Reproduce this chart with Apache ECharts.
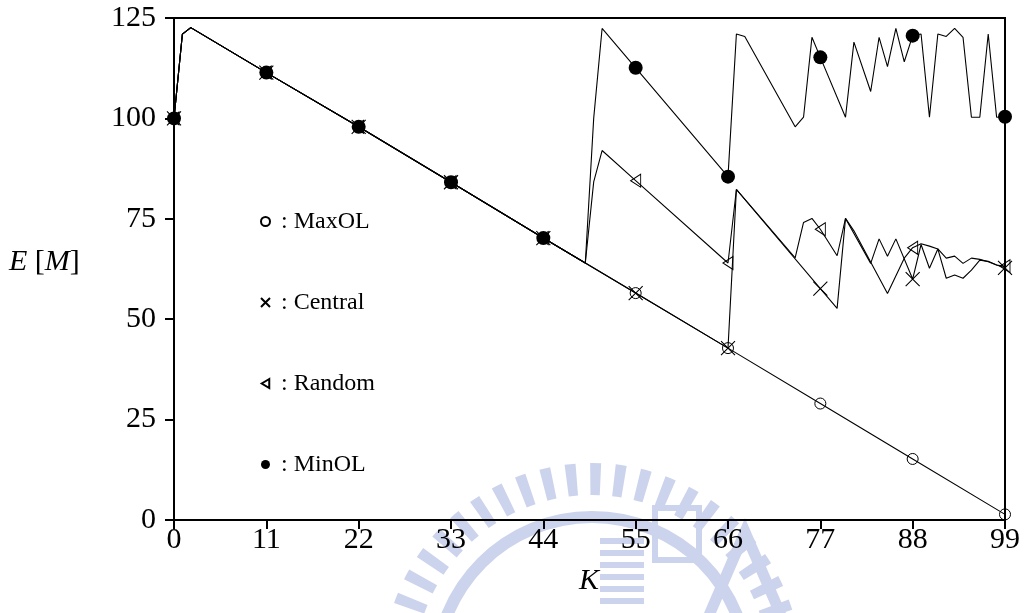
<!DOCTYPE html>
<html>
<head>
<meta charset="utf-8">
<script src="https://cdn.jsdelivr.net/npm/echarts@6/dist/echarts.min.js"></script>
<style>
  html, body { margin: 0; padding: 0; background: #fff; }
  #chart { width: 1024px; height: 613px; }
</style>
</head>
<body>
<div id="chart"></div>
<script>
// Energy E [M] against K for four placement strategies.
// Every strategy shares the same start up to K = 49.
const sharedHead = [[0, 100], [1, 121], [2, 122.6], [11, 111.4], [22, 97.9], [33, 84.1], [44, 70.2], [49, 64.0]];

const maxolTail = [[55, 56.5], [66, 42.8], [77, 29.0], [88, 15.2], [99, 1.4]];

const centralTail = [[55, 56.5], [66, 42.8], [67, 82.3], [77, 57.6], [79, 52.7], [80, 75.1], [83, 63.9],
  [84, 70.0], [85, 65.7], [86, 70.0], [88, 60.0], [89, 68.6], [90, 62.7], [91, 67.5], [92, 60.2],
  [93, 61.0], [94, 60.2], [95, 62.2], [96, 64.7], [97, 64.4], [98, 63.5], [99, 62.8]];

const randomTail = [[50, 84.2], [51, 92.0], [55, 84.5], [66, 64.0], [67, 82.3], [74, 65.3], [75, 74.1],
  [76, 75.1], [77, 72.4], [79, 65.8], [80, 75.1], [81, 72.0], [85, 56.4], [87, 65.2], [88, 67.8],
  [89, 68.8], [90, 68.2], [91, 67.5], [92, 65.2], [93, 65.7], [94, 63.9], [95, 65.2], [96, 64.9],
  [97, 64.3], [98, 63.5], [99, 63.2]];

const minolTail = [[50, 100], [51, 122.4], [55, 112.6], [66, 85.5], [67, 121], [68, 120.4], [74, 97.9],
  [75, 100.3], [76, 120.2], [77, 115.2], [80, 100.3], [81, 119], [83, 106.7], [84, 120.2], [85, 112.9],
  [86, 122.4], [87, 114.1], [88, 120.6], [89, 121], [90, 100.3], [91, 121], [92, 120.4], [93, 122.4],
  [94, 120.2], [95, 100.3], [96, 100.3], [97, 121], [98, 100.3], [99, 100.4]];

const xTicks = [0, 11, 22, 33, 44, 55, 66, 77, 88, 99];
const yTicks = [0, 25, 50, 75, 100, 125];
const names = ['MaxOL', 'Central', 'Random', 'MinOL'];

const curves = {
  MaxOL: sharedHead.concat(maxolTail),
  Central: sharedHead.concat(centralTail),
  Random: sharedHead.concat(randomTail),
  MinOL: sharedHead.concat(minolTail)
};

// markers sit on every 11th K
const markerPoints = (pts) => pts.filter(p => p[0] % 11 === 0);

const SERIF = '"Liberation Serif", "DejaVu Serif", serif';
const clear = 'rgba(0,0,0,0)';

const markerStyle = {
  MaxOL:   { symbol: 'circle', size: 11,
             itemStyle: { color: clear, borderColor: '#000', borderWidth: 1, opacity: 1 } },
  Central: { symbol: 'path://M0,0L10,10M10,0L0,10', size: 14,
             itemStyle: { color: clear, borderColor: '#000', borderWidth: 1.1, opacity: 1 } },
  Random:  { symbol: 'path://M10,0L0,6L10,12Z', size: [10, 13],
             itemStyle: { color: clear, borderColor: '#000', borderWidth: 1, opacity: 1 } },
  MinOL:   { symbol: 'circle', size: 14,
             itemStyle: { color: '#000', borderColor: '#000', borderWidth: 0, opacity: 1 } }
};

const series = [];
names.forEach(n => {
  series.push({
    name: n + ' line',
    type: 'line',
    data: curves[n],
    showSymbol: false,
    symbol: 'none',
    lineStyle: { color: '#000', width: 1.1 },
    z: 2,
    silent: true
  });
});
names.forEach(n => {
  const m = markerStyle[n];
  series.push({
    name: n,
    type: 'scatter',
    data: markerPoints(curves[n]),
    symbol: m.symbol,
    symbolSize: m.size,
    symbolKeepAspect: false,
    itemStyle: m.itemStyle,
    z: 3,
    silent: true
  });
});

// faint emblem in the lower background
const emblemColor = '#ccd3ec';
const EC = { x: 592, y: 673 };
const graphics = [];
for (let a = -180; a <= 0; a += 7) {
  const s = (a - 1.5) * Math.PI / 180, e = (a + 1.5) * Math.PI / 180;
  graphics.push({
    type: 'sector', z: -5, silent: true,
    shape: { cx: EC.x, cy: EC.y, r0: 178, r: 210, startAngle: s, endAngle: e },
    style: { fill: emblemColor }
  });
}
graphics.push({
  type: 'sector', z: -5, silent: true,
  shape: { cx: EC.x, cy: EC.y, r0: 150, r: 162, startAngle: -Math.PI, endAngle: 0 },
  style: { fill: emblemColor }
});
for (let i = 0; i < 6; i++) {
  graphics.push({
    type: 'rect', z: -5, silent: true,
    shape: { x: 600, y: 538 + i * 12, width: 44, height: 6 },
    style: { fill: emblemColor }
  });
}
graphics.push({
  type: 'rect', z: -5, silent: true,
  shape: { x: 655, y: 508, width: 44, height: 52 },
  style: { fill: 'none', stroke: emblemColor, lineWidth: 6 }
});
graphics.push({
  type: 'polygon', z: -5, silent: true,
  shape: { points: [[704, 613], [745, 518], [786, 613], [774, 613], [745, 546], [716, 613]] },
  style: { fill: emblemColor }
});

graphics.push({
  type: 'text', left: 9, top: 247,
  style: {
    text: '{i|E} [{i|M}]',
    font: '30px ' + SERIF, fill: '#000',
    rich: { i: { fontStyle: 'italic', fontFamily: SERIF, fontSize: 30 } }
  }
});
graphics.push({
  type: 'text', left: 579, top: 566,
  style: { text: 'K', font: 'italic 30px ' + SERIF, fill: '#000' }
});

const chart = echarts.init(document.getElementById('chart'), null, { renderer: 'canvas' });
chart.setOption({
  animation: false,
  backgroundColor: '#fff',
  grid: { left: 174, right: 19, top: 18, bottom: 93, show: true, borderColor: '#000', borderWidth: 2, backgroundColor: clear },
  xAxis: {
    type: 'value', min: 0, max: 99, interval: 11,
    axisLine: { lineStyle: { color: '#000', width: 2 } },
    axisTick: { show: true, length: 9, inside: false, lineStyle: { color: '#000', width: 2 } },
    axisLabel: { color: '#000', fontFamily: SERIF, fontSize: 30, margin: 5,
                 formatter: v => xTicks.includes(v) ? String(v) : '' },
    splitLine: { show: false }
  },
  yAxis: {
    type: 'value', min: 0, max: 125, interval: 25,
    axisLine: { lineStyle: { color: '#000', width: 2 } },
    axisTick: { show: true, length: 9, inside: false, lineStyle: { color: '#000', width: 2 } },
    axisLabel: { color: '#000', fontFamily: SERIF, fontSize: 30, margin: 18,
                 formatter: v => yTicks.includes(v) ? String(v) : '' },
    splitLine: { show: false }
  },
  legend: {
    data: names.map(n => ({ name: n, icon: markerStyle[n].symbol })),
    orient: 'vertical',
    left: 255, top: 204,
    itemWidth: 9, itemHeight: 9,
    itemGap: 56,
    selectedMode: false,
    formatter: n => ' : ' + n,
    textStyle: { color: '#000', fontFamily: SERIF, fontSize: 24, lineHeight: 25 }
  },
  graphic: graphics,
  series: series
});
</script>
</body>
</html>
